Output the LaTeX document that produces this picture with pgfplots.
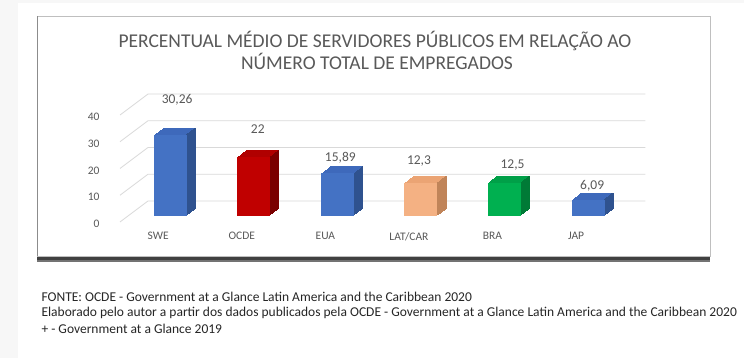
\documentclass[border=0pt]{standalone}
\usepackage{fontspec}
\setmainfont{Carlito}
\usepackage{pgfplots}
\pgfplotsset{compat=1.18}
\definecolor{bluef}{HTML}{4472C4}
\definecolor{bluet}{HTML}{3E69BB}
\definecolor{blues}{HTML}{2F528F}
\definecolor{redf}{HTML}{C00000}
\definecolor{redt}{HTML}{B00000}
\definecolor{reds}{HTML}{7A0000}
\definecolor{oranf}{HTML}{F4B183}
\definecolor{orant}{HTML}{EBA474}
\definecolor{orans}{HTML}{C08459}
\definecolor{greenf}{HTML}{00B050}
\definecolor{greent}{HTML}{00A048}
\definecolor{greens}{HTML}{007A36}
\definecolor{txtgray}{HTML}{595959}
\definecolor{gridc}{HTML}{D9D9D9}
% x, value, front, top, side, label xshift, label yshift, label text
\newcommand{\tdbar}[8]{%
  \pgfplotsinvokeforeach{1,...,9}{%
    \addplot[ybar, bar shift=0pt, bar width=33pt, fill=#4, draw=none, xshift=##1pt, yshift=0.78*##1pt] coordinates {(#1,#2)};
  }%
  \pgfplotsinvokeforeach{1,...,9}{%
    \addplot[ybar, bar shift=15.9pt, bar width=1.3pt, fill=#5, draw=none, xshift=##1pt, yshift=0.78*##1pt] coordinates {(#1,#2)};
  }%
  \addplot[ybar, bar shift=0pt, bar width=33pt, fill=#3, draw=none,
    nodes near coords, point meta=explicit symbolic,
    every node near coord/.append style={anchor=center, font=\fontsize{13.5}{15}\selectfont, text=txtgray, xshift=#6, yshift=#7}]
    coordinates {(#1,#2) [#8]};
}
\begin{document}
\begin{tikzpicture}[x=1pt,y=1pt]
\fill[black!3] (0,0) rectangle (744,358);
\fill[white] (18,0) rectangle (744,355);
% chart frame
\fill[black!75] (37,96) rectangle (710,103);
\fill[black!55] (37,96) rectangle (710,98);
\draw[black!25, fill=white] (37,102) rectangle (710,342);
\draw[black!45] (37,102) -- (37,342);
\node[text=txtgray, font=\fontsize{19.5}{22}\selectfont] at (375,317) {PERCENTUAL MÉDIO DE SERVIDORES PÚBLICOS EM RELAÇÃO AO};
\node[text=txtgray, font=\fontsize{19.5}{22}\selectfont] at (377,297) {NÚMERO TOTAL DE EMPREGADOS};
\begin{axis}[
  at={(120pt,142pt)}, anchor=south west,
  scale only axis, width=497.4pt, height=107pt,
  xmin=-0.6, xmax=5.35, ymin=0, ymax=40,
  clip=false,
  axis line style={draw=none},
  major tick length=0pt,
  xtick={0,1,2,3,4,5},
  xticklabels={SWE,OCDE,EUA,LAT/CAR,BRA,JAP},
  ytick={0,10,20,30,40},
  ticklabel style={font=\fontsize{11.5}{13}\selectfont, text=txtgray},
  xticklabel style={yshift=-13pt, xshift=-12pt},
  yticklabel style={xshift=-17pt, yshift=-8pt},
  /pgf/number format/assume math mode=true,
]
\pgfplotsinvokeforeach{0,10,20,30,40}{%
  \draw[gridc, line width=0.8pt] ([yshift=-6pt]axis cs:-0.6,#1) -- ([xshift=28pt,yshift=15pt]axis cs:-0.6,#1) -- ([xshift=28pt,yshift=15pt]axis cs:5.35,#1);
}
\tdbar{0}{30.26}{bluef}{bluet}{blues}{7pt}{35pt}{30,26}
\tdbar{1}{22}{redf}{redt}{reds}{4pt}{28pt}{22}
\tdbar{2}{15.89}{bluef}{bluet}{blues}{3pt}{16pt}{15,89}
\tdbar{3}{12.3}{oranf}{orant}{orans}{-2pt}{22pt}{12,3}
\tdbar{4}{12.5}{greenf}{greent}{greens}{8pt}{18pt}{12,5}
\tdbar{5}{6.09}{bluef}{bluet}{blues}{4pt}{14pt}{6,09}
\end{axis}
\node[anchor=west, text=black!85, font=\fontsize{13.5}{15}\selectfont] at (38,61) {FONTE: OCDE - Government at a Glance Latin America and the Caribbean 2020};
\node[anchor=west, text=black!85, font=\fontsize{13.5}{15}\selectfont] at (38,45) {Elaborado pelo autor a partir dos dados publicados pela OCDE - Government at a Glance Latin America and the Caribbean 2020};
\node[anchor=west, text=black!85, font=\fontsize{13.5}{15}\selectfont] at (38,29) {+ - Government at a Glance 2019};
\path[use as bounding box] (0,0) rectangle (744,358);
\end{tikzpicture}
\end{document}
